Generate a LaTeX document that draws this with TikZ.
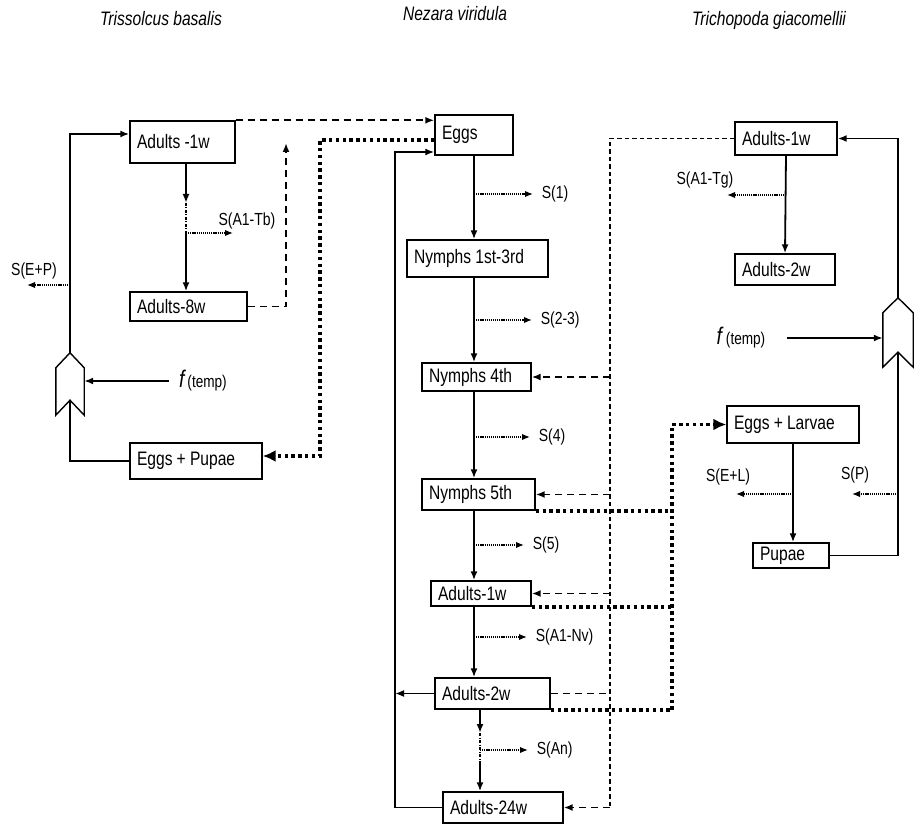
\documentclass[tikz,border=0pt]{standalone}
\usepackage{fontspec}
\setmainfont{Liberation Sans}[FakeStretch=0.8]
\usetikzlibrary{arrows.meta}
\tikzset{
  >={Latex[length=9pt,width=7pt]},
  stage/.style 2 args={draw,line width=1.4pt,inner xsep=7pt,inner ysep=0pt,align=left,
    text width=#1,minimum height=#2,font=\fontsize{19.5}{21}\selectfont,
    execute at begin node={\spaceskip=4.2pt\relax}},
  gate/.style 2 args={minimum width=#1,minimum height=#2,inner sep=0pt},
  lbl/.style={font=\fontsize{17.5}{19}\selectfont,inner sep=2pt},
  ttl/.style={font=\fontsize{19.5}{21}\selectfont\itshape,execute at begin node={\spaceskip=4.2pt\relax}},
  flow/.style={line width=1.8pt},
  feed/.style={line width=1.8pt,dash pattern=on 7pt off 5pt},
  fine/.style={line width=1.2pt,dash pattern=on 4.5pt off 3pt},
  surv/.style={line width=1.5pt,dash pattern=on 1.2pt off 0.9pt,->,>={Latex[length=8pt,width=6.5pt]}},
  para/.style={line width=3.6pt,dash pattern=on 3.4pt off 3.4pt,>={Latex[length=13pt,width=12pt]}},
  gap/.style={line width=1.1pt,dash pattern=on 3pt off 1.5pt on 1pt off 1.5pt}
}
\newcommand{\gateoutline}[1]{\draw[line width=1.4pt] (#1.south west) -- ([yshift=-15pt]#1.north west) -- (#1.north) -- ([yshift=-15pt]#1.north east) -- (#1.south east) -- ([yshift=15pt]#1.south) -- cycle;}
\newcommand{\ftemp}[1]{{\fontsize{24}{25}\selectfont\itshape f}#1{\fontsize{17}{18}\selectfont(temp)}}

\begin{document}
\begin{tikzpicture}[x=1pt,y=-1pt]
\useasboundingbox[fill=white] (0,0) rectangle (919,826);

\node[ttl] (tTb) at (161,19) {Trissolcus basalis};
\node[ttl] (tNv) at (455,14) {Nezara viridula};
\node[ttl] (tTg) at (769,20) {Trichopoda giacomellii};

\node[stage={91pt}{42pt}] (tbA1) at (182.5,142) {Adults -1w};
\node[stage={103pt}{29pt}] (tbA8) at (188.5,306.5) {Adults-8w};
\node[stage={118pt}{36pt}] (tbEP) at (196,461) {Eggs + Pupae};
\node[gate={28pt}{62pt}] (tbGate) at (70,384) {};
\gateoutline{tbGate}
\node[lbl] (tbTemp) at (203,381) {\ftemp{\,}};

\node[stage={64pt}{40pt}] (nvE) at (474,135) {Eggs};
\node[stage={127pt}{37pt}] (nvN13) at (477.5,258.5) {Nymphs 1st-3rd};
\node[stage={95pt}{28pt}] (nvN4) at (476.5,377) {Nymphs 4th};
\node[stage={99pt}{31pt}] (nvN5) at (478.5,494.5) {Nymphs 5th};
\node[stage={86pt}{25pt}] (nvA1) at (481,593.5) {Adults-1w};
\node[stage={101pt}{31pt}] (nvA2) at (492.5,693.5) {Adults-2w};
\node[stage={106pt}{31pt}] (nvA24) at (503,807.5) {Adults-24w};

\node[stage={88pt}{33pt}] (tgA1) at (786,138.5) {Adults-1w};
\node[stage={86pt}{31pt}] (tgA2) at (785,269.5) {Adults-2w};
\node[stage={118pt}{37pt}] (tgEL) at (793,424.5) {Eggs + Larvae};
\node[stage={62pt}{25pt}] (tgP) at (791,555.5) {Pupae};
\node[gate={30pt}{69pt}] (tgGate) at (898,332.5) {};
\gateoutline{tgGate}
\node[lbl] (tgTemp) at (741,338) {\ftemp{\ }};

\coordinate (tbGa) at (186,203);
\coordinate (tbS) at (186,233);
\coordinate (sA1Tb) at (233,233);
\coordinate (tbUp) at (286,143);
\coordinate (sEP) at (27,285);
\coordinate (pLeft) at (320,140);
\draw[flow,->] (tbA1.south -| tbS) -- (tbGa);
\draw[gap] (tbGa) -- (tbS);
\draw[flow,->] (tbS) -- (tbA8.north -| tbS);
\draw[surv] (tbS) -- (sA1Tb);
\node[lbl] (lA1Tb) at (247,221) {S(A1-Tb)};
\draw[feed,->] (tbA8.east) -| (tbUp);
\draw[feed,->] (tbA1.north east) -- (tbA1.north east -| nvE.west);
\draw[flow] (tbEP.west) -| ([yshift=15pt]tbGate.south);
\draw[flow,->] (tbGate.north) |- ([yshift=8pt]tbA1.west);
\draw[surv] (tbGate.north |- sEP) -- (sEP);
\node[lbl] (lEP) at (34,271) {S(E+P)};
\draw[flow,->] ([xshift=-8pt]tbTemp.west) -- (tbTemp.west -| tbGate.east);
\draw[para,->] (nvE.west |- pLeft) -- (pLeft) |- ([yshift=5pt]tbEP.east);

\coordinate (s1) at (533,194);
\coordinate (s23) at (532,320);
\coordinate (s4) at (530,437);
\coordinate (s5) at (524,545);
\coordinate (sA1) at (527,637);
\coordinate (nvGa) at (480,733);
\coordinate (nvS) at (480,763);
\coordinate (sAn) at (528,750);
\coordinate (nvLoop) at (395,152);
\draw[flow,->] (nvE.south) -- (nvN13.north -| nvE.south);
\draw[flow,->] (nvN13.south -| nvE.south) -- (nvN4.north -| nvE.south);
\draw[flow,->] (nvN4.south -| nvE.south) -- (nvN5.north -| nvE.south);
\draw[flow,->] (nvN5.south -| nvE.south) -- (nvA1.north -| nvE.south);
\draw[flow,->] (nvA1.south -| nvE.south) -- (nvA2.north -| nvE.south);
\draw[flow,->] (nvA2.south -| nvGa) -- (nvGa);
\draw[gap] (nvGa) -- (nvS);
\draw[flow,->] (nvS) -- (nvA24.north -| nvS);
\draw[surv] (nvE.south |- s1) -- (s1) node[lbl,right=6pt] (l1) {S(1)};
\draw[surv] (nvE.south |- s23) -- (s23) node[lbl,right=6pt] (l23) {S(2-3)};
\draw[surv] (nvE.south |- s4) -- (s4) node[lbl,right=6pt] (l4) {S(4)};
\draw[surv] (nvE.south |- s5) -- (s5) node[lbl,right=6pt] (l5) {S(5)};
\draw[surv] (nvE.south |- sA1) -- (sA1) node[lbl,right=6pt] (lA1) {S(A1-Nv)};
\draw[surv] (nvGa |- sAn) -- (sAn) node[lbl,right=6pt] (lAn) {S(An)};
\draw[flow,->] (nvA24.west) -| (nvLoop) -- (nvLoop -| nvE.west);
\draw[flow,->] (nvA2.west) -- (nvA2.west -| nvLoop);

\coordinate (fb) at (610,140);
\coordinate (pRight) at (672,424.5);
\draw[fine] (tgA1.west) -| (fb |- nvA24.east);
\draw[feed,->] (fb |- nvN4.east) -- (nvN4.east);
\draw[feed,->] (fb |- nvN5.east) -- (nvN5.east);
\draw[feed,->] (fb |- nvA1.east) -- (nvA1.east);
\draw[feed] (nvA2.east) -- (nvA2.east -| fb);
\draw[feed,->] (fb |- nvA24.east) -- (nvA24.east);
\draw[para] (nvN5.south east) -- (nvN5.south east -| pRight);
\draw[para] (nvA1.south east) -- (nvA1.south east -| pRight);
\draw[para] (nvA2.south east) -- (nvA2.south east -| pRight);
\draw[para,->] (pRight |- nvA2.south east) -- (pRight) -- (tgEL.west);

\coordinate (sA1Tg) at (727,195);
\coordinate (sEL) at (736,494);
\coordinate (sP) at (852,494);
\draw[flow,->] (tgA1.south) -- (tgA2.north);
\draw[surv] (tgA1.south |- sA1Tg) -- (sA1Tg);
\node[lbl] (lA1Tg) at (705,180) {S(A1-Tg)};
\draw[flow,->] (tgEL.south) -- (tgP.north -| tgEL.south);
\draw[surv] (tgEL.south |- sEL) -- (sEL);
\node[lbl] (lEL) at (728,477) {S(E+L)};
\draw[surv] (tgGate.south |- sP) -- (sP);
\node[lbl] (lP) at (855,475) {S(P)};
\draw[flow] (tgP.east) -| ([yshift=15pt]tgGate.south);
\draw[flow,->] (tgGate.north) |- (tgA1.east);
\draw[flow,->] ([xshift=20pt]tgTemp.east) -- (tgTemp.east -| tgGate.west);
\end{tikzpicture}
\end{document}
